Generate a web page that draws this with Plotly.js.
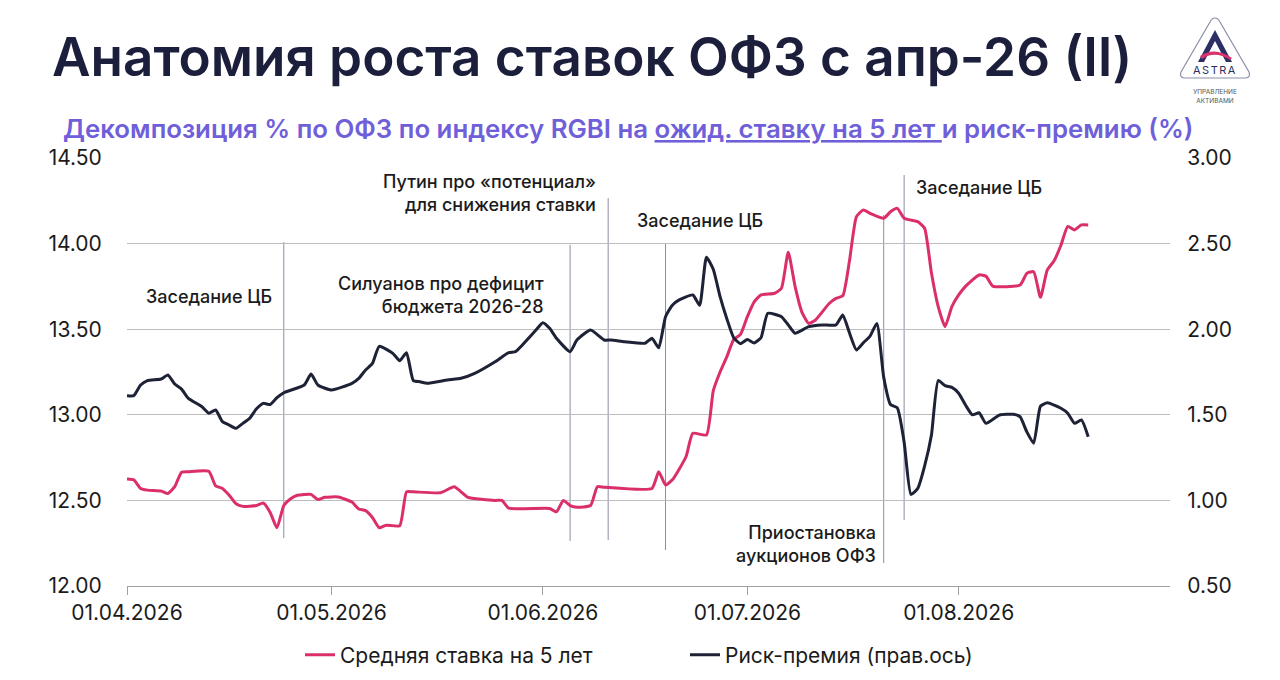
<!DOCTYPE html>
<html>
<head>
<meta charset="utf-8">
<script src="https://cdn.plot.ly/plotly-3.0.1.min.js"></script>
<style>
html,body{margin:0;padding:0;background:#fff;}
#chart{width:1280px;height:680px;position:relative;}
#logo{position:absolute;left:1170px;top:10px;width:90px;height:105px;}
</style>
</head>
<body>
<div id="chart"></div>
<svg id="logo" viewBox="0 0 90 105" xmlns="http://www.w3.org/2000/svg">
  <path d="M45,8 Q48,8 50,12 L79,62 Q81,67 76,68 L14,68 Q9,67 11,62 L40,12 Q42,8 45,8 Z" fill="none" stroke="#8a8fa8" stroke-width="1.2"/>
  <path d="M45,20 L62,52 L56,52 L45,31 L34,52 L28,52 Z" fill="#2b2f63"/>
  <path d="M30,46 Q45,36 62,48 L60,50 Q45,40 32,49 Z" fill="#d9336f"/>
  <text x="45" y="64" text-anchor="middle" font-family="Inter, sans-serif" font-size="11" letter-spacing="1.5" fill="#2b2f63">ASTRA</text>
  <text x="45" y="84" text-anchor="middle" font-family="Inter, sans-serif" font-size="6.5" fill="#555">УПРАВЛЕНИЕ</text>
  <text x="45" y="93" text-anchor="middle" font-family="Inter, sans-serif" font-size="6.5" fill="#555">АКТИВАМИ</text>
</svg>
<script>
// ---- data ----
const rateDates = [
 '2026-04-01','2026-04-02','2026-04-03','2026-04-04','2026-04-06','2026-04-07','2026-04-08','2026-04-09','2026-04-10',
 '2026-04-13','2026-04-14','2026-04-15','2026-04-16','2026-04-17','2026-04-18','2026-04-20','2026-04-21','2026-04-22',
 '2026-04-23','2026-04-24','2026-04-25','2026-04-26','2026-04-28','2026-04-29','2026-04-30','2026-05-02','2026-05-04',
 '2026-05-05','2026-05-06','2026-05-07','2026-05-08','2026-05-09','2026-05-11','2026-05-12','2026-05-13','2026-05-17',
 '2026-05-19','2026-05-20','2026-05-21','2026-05-25','2026-05-26','2026-05-27','2026-06-02','2026-06-03','2026-06-04',
 '2026-06-05','2026-06-06','2026-06-08','2026-06-09','2026-06-10','2026-06-17','2026-06-18','2026-06-19','2026-06-20',
 '2026-06-22','2026-06-23','2026-06-25','2026-06-26','2026-06-27','2026-06-28','2026-06-29','2026-06-30','2026-07-01',
 '2026-07-02','2026-07-03','2026-07-05','2026-07-06','2026-07-07','2026-07-08','2026-07-09','2026-07-10','2026-07-11',
 '2026-07-13','2026-07-14','2026-07-15','2026-07-16','2026-07-17','2026-07-18','2026-07-19','2026-07-21','2026-07-22',
 '2026-07-23','2026-07-24','2026-07-26','2026-07-27','2026-07-28','2026-07-29','2026-07-30','2026-07-31','2026-08-01',
 '2026-08-02','2026-08-04','2026-08-05','2026-08-06','2026-08-10','2026-08-11','2026-08-12','2026-08-13','2026-08-14',
 '2026-08-15','2026-08-16','2026-08-17','2026-08-18','2026-08-19','2026-08-20'
];
const rateValues = [
 12.625,12.62,12.57,12.56,12.555,12.54,12.58,12.665,12.668,
 12.67,12.585,12.57,12.53,12.48,12.465,12.47,12.485,12.43,
 12.34,12.47,12.51,12.53,12.535,12.505,12.518,12.52,12.49,
 12.45,12.44,12.40,12.34,12.355,12.352,12.55,12.55,12.545,
 12.58,12.55,12.518,12.50,12.50,12.455,12.453,12.433,12.50,
 12.47,12.46,12.47,12.58,12.577,12.57,12.668,12.59,12.62,
 12.755,12.892,12.882,13.14,13.25,13.34,13.44,13.47,13.573,
 13.66,13.70,13.71,13.739,13.95,13.75,13.60,13.534,13.554,
 13.65,13.68,13.695,13.904,14.157,14.196,14.177,14.148,14.186,
 14.206,14.148,14.128,14.09,13.83,13.632,13.515,13.632,13.70,
 13.75,13.817,13.81,13.752,13.758,13.826,13.836,13.686,13.846,
 13.90,13.99,14.10,14.08,14.109,14.109
];
const premDates = [
 '2026-04-01','2026-04-02','2026-04-03','2026-04-04','2026-04-06','2026-04-07','2026-04-08','2026-04-09','2026-04-10',
 '2026-04-12','2026-04-13','2026-04-14','2026-04-15','2026-04-16','2026-04-17','2026-04-18','2026-04-19','2026-04-20',
 '2026-04-21','2026-04-22','2026-04-23','2026-04-24','2026-04-27','2026-04-28','2026-04-29','2026-05-01','2026-05-04',
 '2026-05-05','2026-05-06','2026-05-07','2026-05-08','2026-05-10','2026-05-11','2026-05-12','2026-05-13','2026-05-14',
 '2026-05-15','2026-05-18','2026-05-20','2026-05-22','2026-05-25','2026-05-27','2026-05-28','2026-05-29','2026-05-31',
 '2026-06-01','2026-06-02','2026-06-03','2026-06-05','2026-06-06','2026-06-08','2026-06-10','2026-06-11','2026-06-13',
 '2026-06-16','2026-06-17','2026-06-18','2026-06-19','2026-06-20','2026-06-21','2026-06-23','2026-06-24','2026-06-25',
 '2026-06-26','2026-06-27','2026-06-28','2026-06-29','2026-06-30','2026-07-01','2026-07-02','2026-07-03','2026-07-04',
 '2026-07-06','2026-07-07','2026-07-08','2026-07-10','2026-07-12','2026-07-14','2026-07-15','2026-07-16','2026-07-17',
 '2026-07-18','2026-07-19','2026-07-20','2026-07-21','2026-07-22','2026-07-23','2026-07-24','2026-07-25','2026-07-26',
 '2026-07-27','2026-07-28','2026-07-29','2026-07-30','2026-07-31','2026-08-01','2026-08-02','2026-08-03','2026-08-04',
 '2026-08-05','2026-08-07','2026-08-09','2026-08-10','2026-08-11','2026-08-12','2026-08-13','2026-08-14','2026-08-16',
 '2026-08-17','2026-08-18','2026-08-19','2026-08-20'
];
const premValues = [
 1.612,1.612,1.674,1.70,1.709,1.733,1.68,1.65,1.596,
 1.547,1.509,1.528,1.46,1.44,1.421,1.45,1.48,1.535,
 1.567,1.56,1.60,1.629,1.674,1.738,1.674,1.645,1.684,
 1.713,1.762,1.80,1.90,1.859,1.816,1.863,1.70,1.693,
 1.684,1.703,1.713,1.742,1.81,1.863,1.869,1.908,1.995,
 2.038,2.005,1.947,1.869,1.937,1.995,1.937,1.937,1.927,
 1.918,1.947,1.892,2.073,2.14,2.171,2.20,2.14,2.42,
 2.35,2.19,2.06,1.95,1.915,1.94,1.92,1.95,2.093,
 2.073,2.025,1.976,2.015,2.025,2.025,2.083,1.976,1.879,
 1.92,1.96,2.034,1.72,1.56,1.54,1.34,1.035,1.07,
 1.20,1.38,1.70,1.67,1.66,1.626,1.557,1.50,1.512,
 1.45,1.499,1.503,1.489,1.40,1.334,1.55,1.57,1.538,
 1.509,1.45,1.47,1.372
];
const seriesNames = ['Средняя ставка на 5 лет','Риск-премия (прав.ось)'];
const monthTicks = ['2026-04-01','2026-05-01','2026-06-01','2026-07-01','2026-08-01'];
const monthLabels = ['01.04.2026','01.05.2026','01.06.2026','01.07.2026','01.08.2026'];
const leftTicks = [12.0,12.5,13.0,13.5,14.0,14.5];
const rightTicks = [0.5,1.0,1.5,2.0,2.5,3.0];
const eventDates = ['2026-04-24','2026-06-05','2026-06-10 14:00','2026-06-19','2026-07-21','2026-07-24'];
const eventTexts = ['Заседание ЦБ','Силуанов про дефицит<br>бюджета 2026-28','Путин про «потенциал»<br>для снижения ставки','Заседание ЦБ','Приостановка<br>аукционов ОФЗ','Заседание ЦБ'];
const titleText = 'Анатомия роста ставок ОФЗ с апр-26 (II)';
const subtitleText = 'Декомпозиция % по ОФЗ по индексу RGBI на <u>ожид. ставку на 5 лет </u>и риск-премию (%)';

// ---- layout helpers (pixel -> paper) ----
const L=127, R=1170, T=158, B=586;
const px = x => (x-L)/(R-L);
const py = y => (B-y)/(B-T);
const ly = y => 14.5-(y-T)/((B-T)/2.5); // pixel y -> left-axis value

const PINK='#db2f6c', NAVY='#1e2236', EVT='#8c8ca8';
const FONT='Inter, "Noto Sans", sans-serif';

const traces = [
 {x:rateDates, y:rateValues, name:seriesNames[0], type:'scatter', mode:'lines',
  line:{color:PINK, width:3, shape:'spline', smoothing:0.5}, yaxis:'y'},
 {x:premDates, y:premValues, name:seriesNames[1], type:'scatter', mode:'lines',
  line:{color:NAVY, width:3, shape:'spline', smoothing:0.5}, yaxis:'y2'}
];

// vertical event lines: [top px, bottom px]
const evtSpans = [[242,538],[245,541],[198,540],[244,550],[215,563],[175,520]];
const shapes = eventDates.map((d,i)=>({type:'line', xref:'x', yref:'y', x0:d, x1:d,
  y0:ly(evtSpans[i][1]), y1:ly(evtSpans[i][0]), line:{color:EVT, width:1}, layer:'below'}));

const annFont = {family:FONT, size:18, color:'#1b1b1b', weight:500};
const evtPos = [ // [x px, y px, anchor]
 [144,296,'left'],[546,295,'right'],[598,193,'right'],[635,220,'left'],[878,544,'right'],[914,188,'left']];
const annotations = eventTexts.map((t,i)=>({text:t, xref:'paper', yref:'paper', x:px(evtPos[i][0]), y:py(evtPos[i][1]),
  xanchor:evtPos[i][2], yanchor:'middle', align:evtPos[i][2], showarrow:false, font:annFont}));
annotations.push({text:titleText, xref:'paper', yref:'paper', x:px(50), y:py(57), xanchor:'left', yanchor:'middle',
  showarrow:false, font:{family:FONT, size:53, color:'#1c1f3b', weight:600}});
annotations.push({text:subtitleText, xref:'paper', yref:'paper', x:px(61), y:py(128), xanchor:'left', yanchor:'middle',
  showarrow:false, font:{family:FONT, size:25.8, color:'#6f60da', weight:600}});

const layout = {
 width:1280, height:680,
 margin:{l:L, r:1280-R, t:T, b:680-B, pad:0, autoexpand:false},
 paper_bgcolor:'#fff', plot_bgcolor:'#fff',
 showlegend:true,
 legend:{orientation:'h', x:px(300), xanchor:'left', y:py(655), yanchor:'middle',
   font:{family:FONT, size:21, color:'#1b1b1b'}, entrywidth:340, entrywidthmode:'pixels', itemwidth:30, tracegroupgap:0},
 xaxis:{type:'date', range:['2026-04-01','2026-09-01'], tickmode:'array', tickvals:monthTicks, ticktext:monthLabels,
   showgrid:false, showline:true, linecolor:'#a0a0a0', linewidth:1, ticks:'outside', ticklen:8, tickcolor:'#a0a0a0',
   tickfont:{family:FONT, size:21, color:'#1b1b1b'}, zeroline:false, fixedrange:true, automargin:false},
 yaxis:{range:[12,14.5], tickmode:'array', tickvals:leftTicks, tickformat:'.2f', showgrid:true, gridcolor:'#bdbdbd', gridwidth:1,
   showline:false, zeroline:false, ticks:'outside', ticklen:20, tickcolor:'rgba(0,0,0,0)', automargin:false,
   tickfont:{family:FONT, size:21, color:'#1b1b1b'}},
 yaxis2:{range:[0.5,3], overlaying:'y', side:'right', tickmode:'array', tickvals:rightTicks, tickformat:'.2f', showgrid:false,
   zeroline:false, showline:false, ticks:'outside', ticklen:12, tickcolor:'rgba(0,0,0,0)', automargin:false,
   tickfont:{family:FONT, size:21, color:'#1b1b1b'}},
 shapes:shapes,
 annotations:annotations
};
Plotly.newPlot('chart', traces, layout, {staticPlot:true, displayModeBar:false});
</script>
</body>
</html>
